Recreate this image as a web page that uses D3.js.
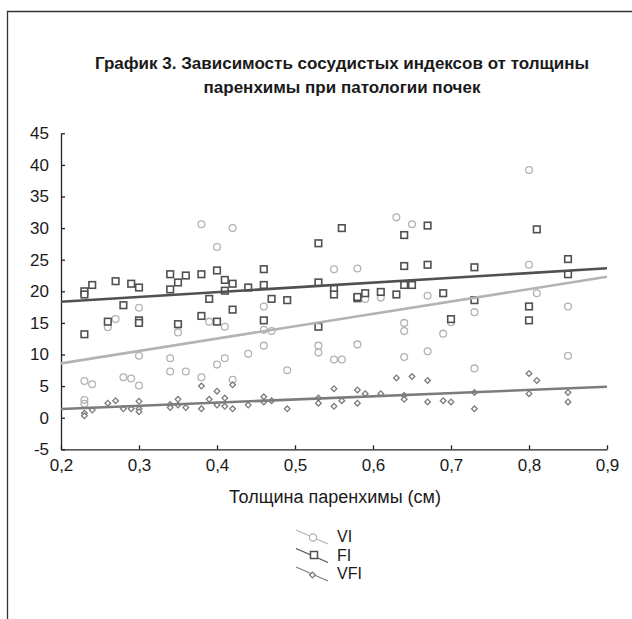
<!DOCTYPE html>
<html>
<head>
<meta charset="utf-8">
<script src="https://cdn.jsdelivr.net/npm/d3@7"></script>
<style>
  body { margin: 0; background: #fff; }
  text { font-family: "Liberation Sans", Arial, sans-serif; fill: #1a1a1a; }
</style>
</head>
<body>
<div id="vis"></div>
<script>
var width = 632;
var height = 619;

var titleLines = ["График 3. Зависимость сосудистых индексов от толщины",
                  "паренхимы при патологии почек"];
var xLabel = "Толщина паренхимы (см)";
var xTicks = [0.2, 0.3, 0.4, 0.5, 0.6, 0.7, 0.8, 0.9];
var yTicks = [-5, 0, 5, 10, 15, 20, 25, 30, 35, 40, 45];
var seriesNames = ["VI", "FI", "VFI"];

// [толщина, индекс]
var viData = [[0.23,5.8],[0.23,2.8],[0.23,2.2],[0.24,5.3],[0.26,14.3],[0.27,15.6],[0.28,6.4],
  [0.29,6.2],[0.30,17.4],[0.30,9.8],[0.30,5.1],[0.34,9.4],[0.34,7.3],[0.35,13.5],[0.36,7.3],
  [0.38,30.6],[0.38,6.4],[0.39,15.2],[0.40,27.0],[0.40,8.4],[0.41,14.4],[0.41,9.4],[0.42,30.0],
  [0.42,6.0],[0.44,10.1],[0.46,17.6],[0.46,13.9],[0.46,11.4],[0.47,13.7],[0.49,7.5],[0.53,11.4],
  [0.53,10.3],[0.55,23.5],[0.55,9.2],[0.56,9.2],[0.58,23.6],[0.58,11.6],[0.59,18.8],[0.61,19.0],
  [0.63,31.7],[0.64,15.0],[0.64,13.7],[0.64,9.6],[0.65,30.6],[0.67,19.3],[0.67,10.5],[0.69,13.3],
  [0.70,15.1],[0.73,16.7],[0.73,7.8],[0.80,39.2],[0.80,24.2],[0.81,19.7],[0.85,17.6],[0.85,9.8]];

var fiData = [[0.23,20.0],[0.23,19.5],[0.23,13.2],[0.24,21.0],[0.26,15.2],[0.27,21.6],[0.28,17.8],
  [0.29,21.2],[0.30,20.6],[0.30,15.4],[0.30,15.0],[0.34,22.7],[0.34,20.3],[0.35,21.4],[0.35,14.8],
  [0.36,22.5],[0.38,22.7],[0.38,16.1],[0.39,18.8],[0.40,23.3],[0.40,15.2],[0.41,21.8],[0.41,20.1],
  [0.42,21.2],[0.42,17.1],[0.44,20.6],[0.46,23.5],[0.46,21.0],[0.46,15.4],[0.47,18.8],[0.49,18.6],
  [0.53,27.6],[0.53,21.4],[0.53,14.4],[0.55,20.4],[0.55,19.5],[0.56,30.0],[0.58,18.9],[0.58,19.1],
  [0.59,19.7],[0.61,19.9],[0.63,19.5],[0.64,28.9],[0.64,24.0],[0.64,21.0],[0.65,21.0],[0.67,30.4],
  [0.67,24.2],[0.69,19.7],[0.70,15.6],[0.73,23.8],[0.73,18.6],[0.80,17.6],[0.80,15.4],[0.81,29.8],
  [0.85,25.1],[0.85,22.7]];

var vfiData = [[0.23,0.7],[0.23,0.3],[0.24,1.2],[0.26,2.3],[0.27,2.7],[0.28,1.4],[0.29,1.4],
  [0.30,2.6],[0.30,1.4],[0.30,0.95],[0.34,2.1],[0.34,1.6],[0.35,2.9],[0.35,2.0],[0.36,1.6],
  [0.38,5.0],[0.38,1.4],[0.39,2.9],[0.40,4.2],[0.40,2.0],[0.41,3.1],[0.41,1.8],[0.42,5.2],
  [0.42,1.4],[0.44,2.0],[0.46,3.3],[0.46,2.5],[0.47,2.7],[0.49,1.4],[0.53,3.1],[0.53,2.3],
  [0.55,4.6],[0.55,1.8],[0.56,2.7],[0.58,4.4],[0.58,2.3],[0.59,3.8],[0.61,3.8],[0.63,6.3],
  [0.64,3.5],[0.64,2.9],[0.65,6.5],[0.67,5.9],[0.67,2.5],[0.69,2.7],[0.70,2.5],[0.73,4.0],
  [0.73,1.4],[0.80,7.0],[0.80,3.8],[0.81,5.9],[0.85,4.0],[0.85,2.5]];

// линии тренда (концы)
var viTrend = [[0.2,8.6],[0.9,22.3]];
var fiTrend = [[0.2,18.35],[0.9,23.64]];
var vfiTrend = [[0.2,1.38],[0.9,4.9]];

var colors = {VI: "#b3b3b3", FI: "#505050", VFI: "#7c7c7c"};

function init(){

  var svg = d3.select('#vis').append('svg')
      .attr("width", width)
      .attr("height", height);

  // рамка
  svg.append("path")
      .attr("d", "M7.5," + height + "V11.5H" + width)
      .attr("fill", "none")
      .attr("stroke", "#333")
      .attr("stroke-width", 1.3);

  svg.selectAll(".title").data(titleLines).enter()
    .append("text")
      .attr("class", "title")
      .attr("x", 342)
      .attr("y", function(d, i){ return 69 + i*24; })
      .attr("text-anchor", "middle")
      .style("font-size", "17px")
      .style("font-weight", "bold")
      .text(function(d){ return d; });

  var x = d3.scaleLinear().domain([0.2, 0.9]).range([61, 607]);
  var y = d3.scaleLinear().domain([-5, 45]).range([449.3, 133.3]);

  var fmt = function(d){ return d3.format(".1f")(d).replace(".", ","); };

  var xAxis = svg.append("g")
      .attr("transform", "translate(0," + y(-5) + ")")
      .call(d3.axisBottom(x).tickValues(xTicks).tickSizeInner(-4).tickSizeOuter(0).tickPadding(10).tickFormat(fmt));
  var yAxis = svg.append("g")
      .attr("transform", "translate(" + x(0.2) + ",0)")
      .call(d3.axisLeft(y).tickValues(yTicks).tickSizeInner(-4).tickSizeOuter(0).tickPadding(12)
        .tickFormat(function(d){ return String(d); }));

  [xAxis, yAxis].forEach(function(a){
    a.select(".domain").attr("stroke", "#222").attr("stroke-width", 1.3);
    a.selectAll(".tick line").attr("stroke", "#222").attr("stroke-width", 1.3);
    a.selectAll(".tick text")
      .style("font-family", '"Liberation Sans", Arial, sans-serif')
      .style("font-size", "17px")
      .attr("fill", "#1a1a1a");
  });

  svg.append("text")
      .attr("x", 335)
      .attr("y", 503)
      .attr("text-anchor", "middle")
      .style("font-size", "18px")
      .text(xLabel);

  var plot = svg.append("g");

  plot.selectAll(".vi").data(viData).enter()
    .append("circle")
      .attr("cx", function(d){ return x(d[0]); })
      .attr("cy", function(d){ return y(d[1]); })
      .attr("r", 3.4)
      .attr("fill", "none")
      .attr("stroke", colors.VI)
      .attr("stroke-width", 1.3);

  plot.selectAll(".fi").data(fiData).enter()
    .append("rect")
      .attr("x", function(d){ return x(d[0]) - 3.3; })
      .attr("y", function(d){ return y(d[1]) - 3.3; })
      .attr("width", 6.6)
      .attr("height", 6.6)
      .attr("fill", "#fff")
      .attr("stroke", colors.FI)
      .attr("stroke-width", 1.6);

  plot.selectAll(".vfi").data(vfiData).enter()
    .append("rect")
      .attr("x", -2)
      .attr("y", -2)
      .attr("width", 4)
      .attr("height", 4)
      .attr("fill", "#fff")
      .attr("stroke", colors.VFI)
      .attr("stroke-width", 1.3)
      .attr("transform", function(d){
        return "translate(" + x(d[0]) + "," + y(d[1]) + ") rotate(45)";
      });

  var line = d3.line()
      .x(function(d){ return x(d[0]); })
      .y(function(d){ return y(d[1]); });

  [[viTrend, colors.VI], [fiTrend, colors.FI], [vfiTrend, colors.VFI]].forEach(function(t){
    plot.append("path")
        .attr("d", line(t[0]))
        .attr("fill", "none")
        .attr("stroke", t[1])
        .attr("stroke-width", 2.6);
  });

  // легенда
  var legend = svg.append("g").attr("transform", "translate(296,530)");
  var items = legend.selectAll("g").data(seriesNames).enter()
    .append("g")
      .attr("transform", function(d, i){ return "translate(0," + i*18.5 + ")"; });

  items.append("line")
      .attr("x1", 0).attr("y1", 0)
      .attr("x2", 32).attr("y2", 14)
      .attr("stroke", function(d){ return colors[d]; })
      .attr("stroke-width", 1.2);

  items.each(function(d){
    var g = d3.select(this);
    if (d == "VI") {
      g.append("circle").attr("cx", 17).attr("cy", 7.5).attr("r", 3.6)
        .attr("fill", "#fff").attr("stroke", colors.VI).attr("stroke-width", 1.3);
    } else if (d == "FI") {
      g.append("rect").attr("x", 14.5).attr("y", 3).attr("width", 7).attr("height", 7)
        .attr("fill", "#fff").attr("stroke", colors.FI).attr("stroke-width", 1.5);
    } else {
      g.append("rect").attr("x", -2).attr("y", -2).attr("width", 4).attr("height", 4)
        .attr("fill", "#fff").attr("stroke", colors.VFI).attr("stroke-width", 1.3)
        .attr("transform", "translate(16.5,8) rotate(45)");
    }
  });

  items.append("text")
      .attr("x", 41)
      .attr("y", 12)
      .style("font-size", "16px")
      .text(function(d){ return d; });
}

init();
</script>
</body>
</html>
